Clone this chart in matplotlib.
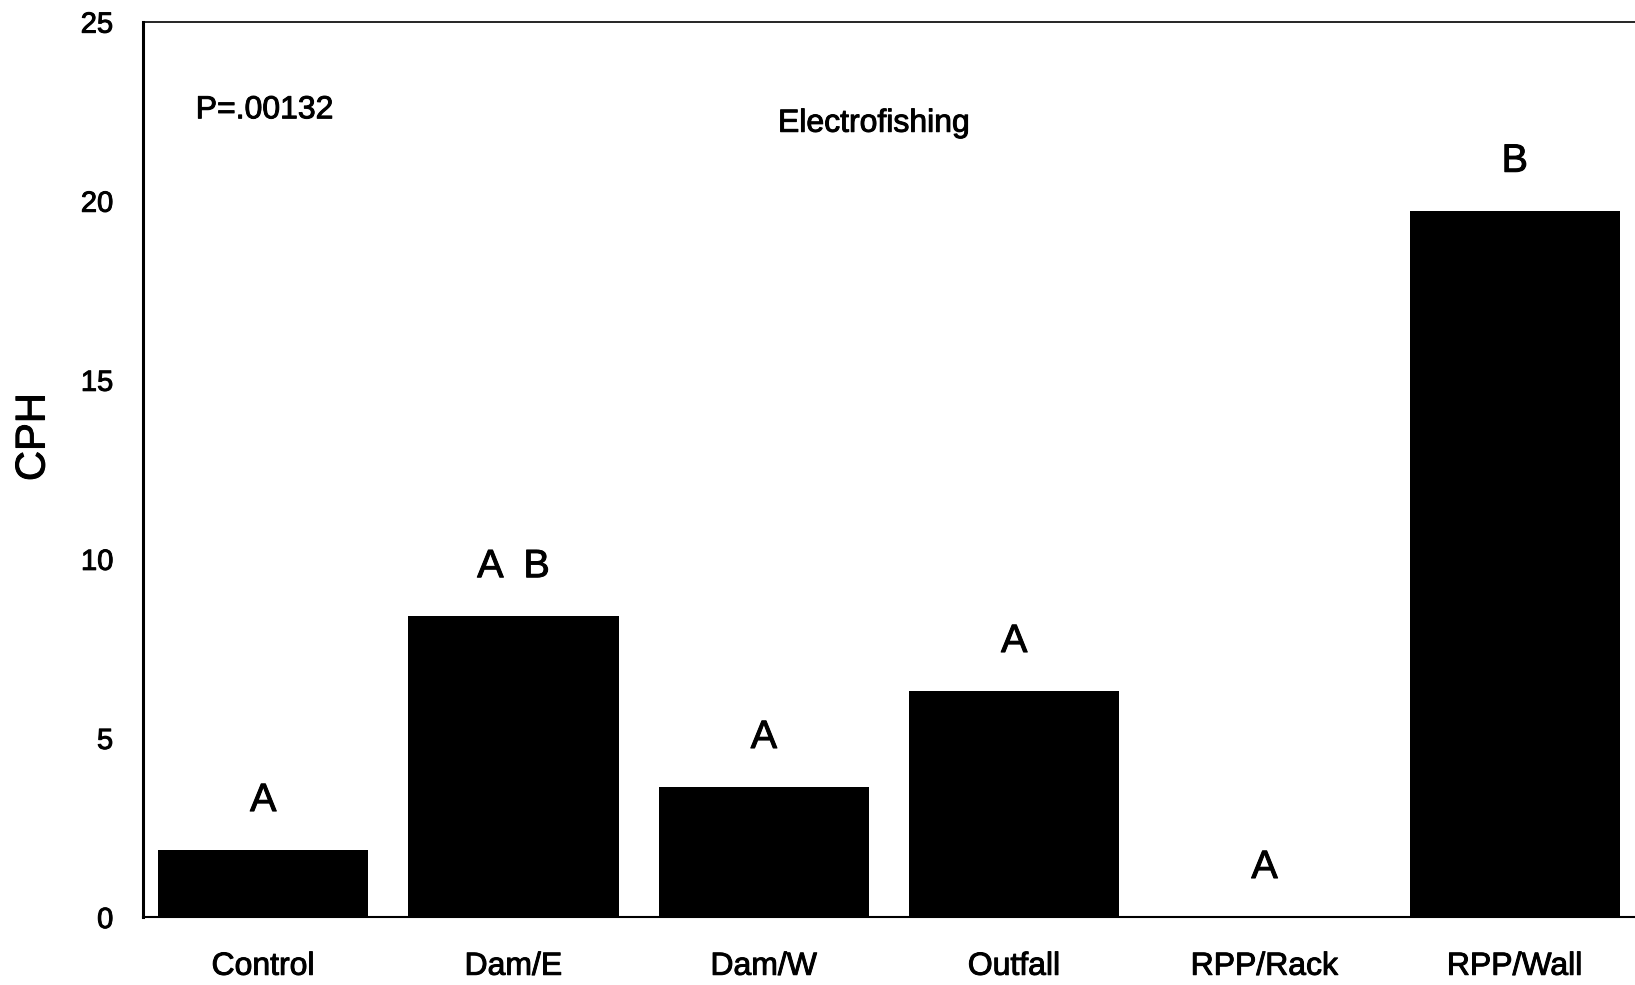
import matplotlib
matplotlib.use('Agg')
import matplotlib.pyplot as plt
import matplotlib.patheffects as pe

# data
sites = ['Control', 'Dam/E', 'Dam/W', 'Outfall', 'RPP/Rack', 'RPP/Wall']
cph = [1.87, 8.4, 3.63, 6.31, 0.0, 19.72]
groups = ['A', 'A  B', 'A', 'A', 'A', 'B']

plt.rcParams['font.family'] = ['Liberation Sans', 'DejaVu Sans']
# scanned look: text a little heavier than plain Arial
thick = [pe.withStroke(linewidth=0.7, foreground='black')]

fig = plt.figure(figsize=(16.35, 9.85), dpi=100)
ax = fig.add_axes([0.0875, 0.069, 0.9125, 0.909])

x = range(len(sites))
ax.bar(x, cph, width=0.84, color='black')

# group letters above bars
for i, (v, g) in enumerate(zip(cph, groups)):
    ax.annotate(g, (i, v), xytext=(0, 36), textcoords='offset points',
                ha='center', va='center', fontsize=28.5, path_effects=thick)

ax.set_xlim(-0.48, 5.48)
ax.set_ylim(0, 25)
ax.set_yticks([0, 5, 10, 15, 20, 25])
ax.set_xticks(list(x))
ax.set_xticklabels(sites, fontsize=23)
ax.tick_params(axis='y', length=0, pad=21.5, labelsize=21)
ax.tick_params(axis='x', length=0, pad=25)
for lab in ax.get_xticklabels() + ax.get_yticklabels():
    lab.set_path_effects(thick)

ax.set_ylabel('CPH', fontsize=30, path_effects=thick)
ax.yaxis.set_label_coords(-0.060, 0.536)

ax.spines['right'].set_visible(False)
ax.spines['left'].set_linewidth(2.2)
ax.spines['top'].set_linewidth(1.2)
ax.spines['bottom'].set_linewidth(1.5)

ax.text(0.0353, 0.901, 'P=.00132', transform=ax.transAxes, fontsize=23,
        ha='left', va='center', path_effects=thick)
ax.text(0.49, 0.886, 'Electrofishing', transform=ax.transAxes, fontsize=23,
        ha='center', va='center', path_effects=thick)

fig.savefig('out.png', dpi=100)
